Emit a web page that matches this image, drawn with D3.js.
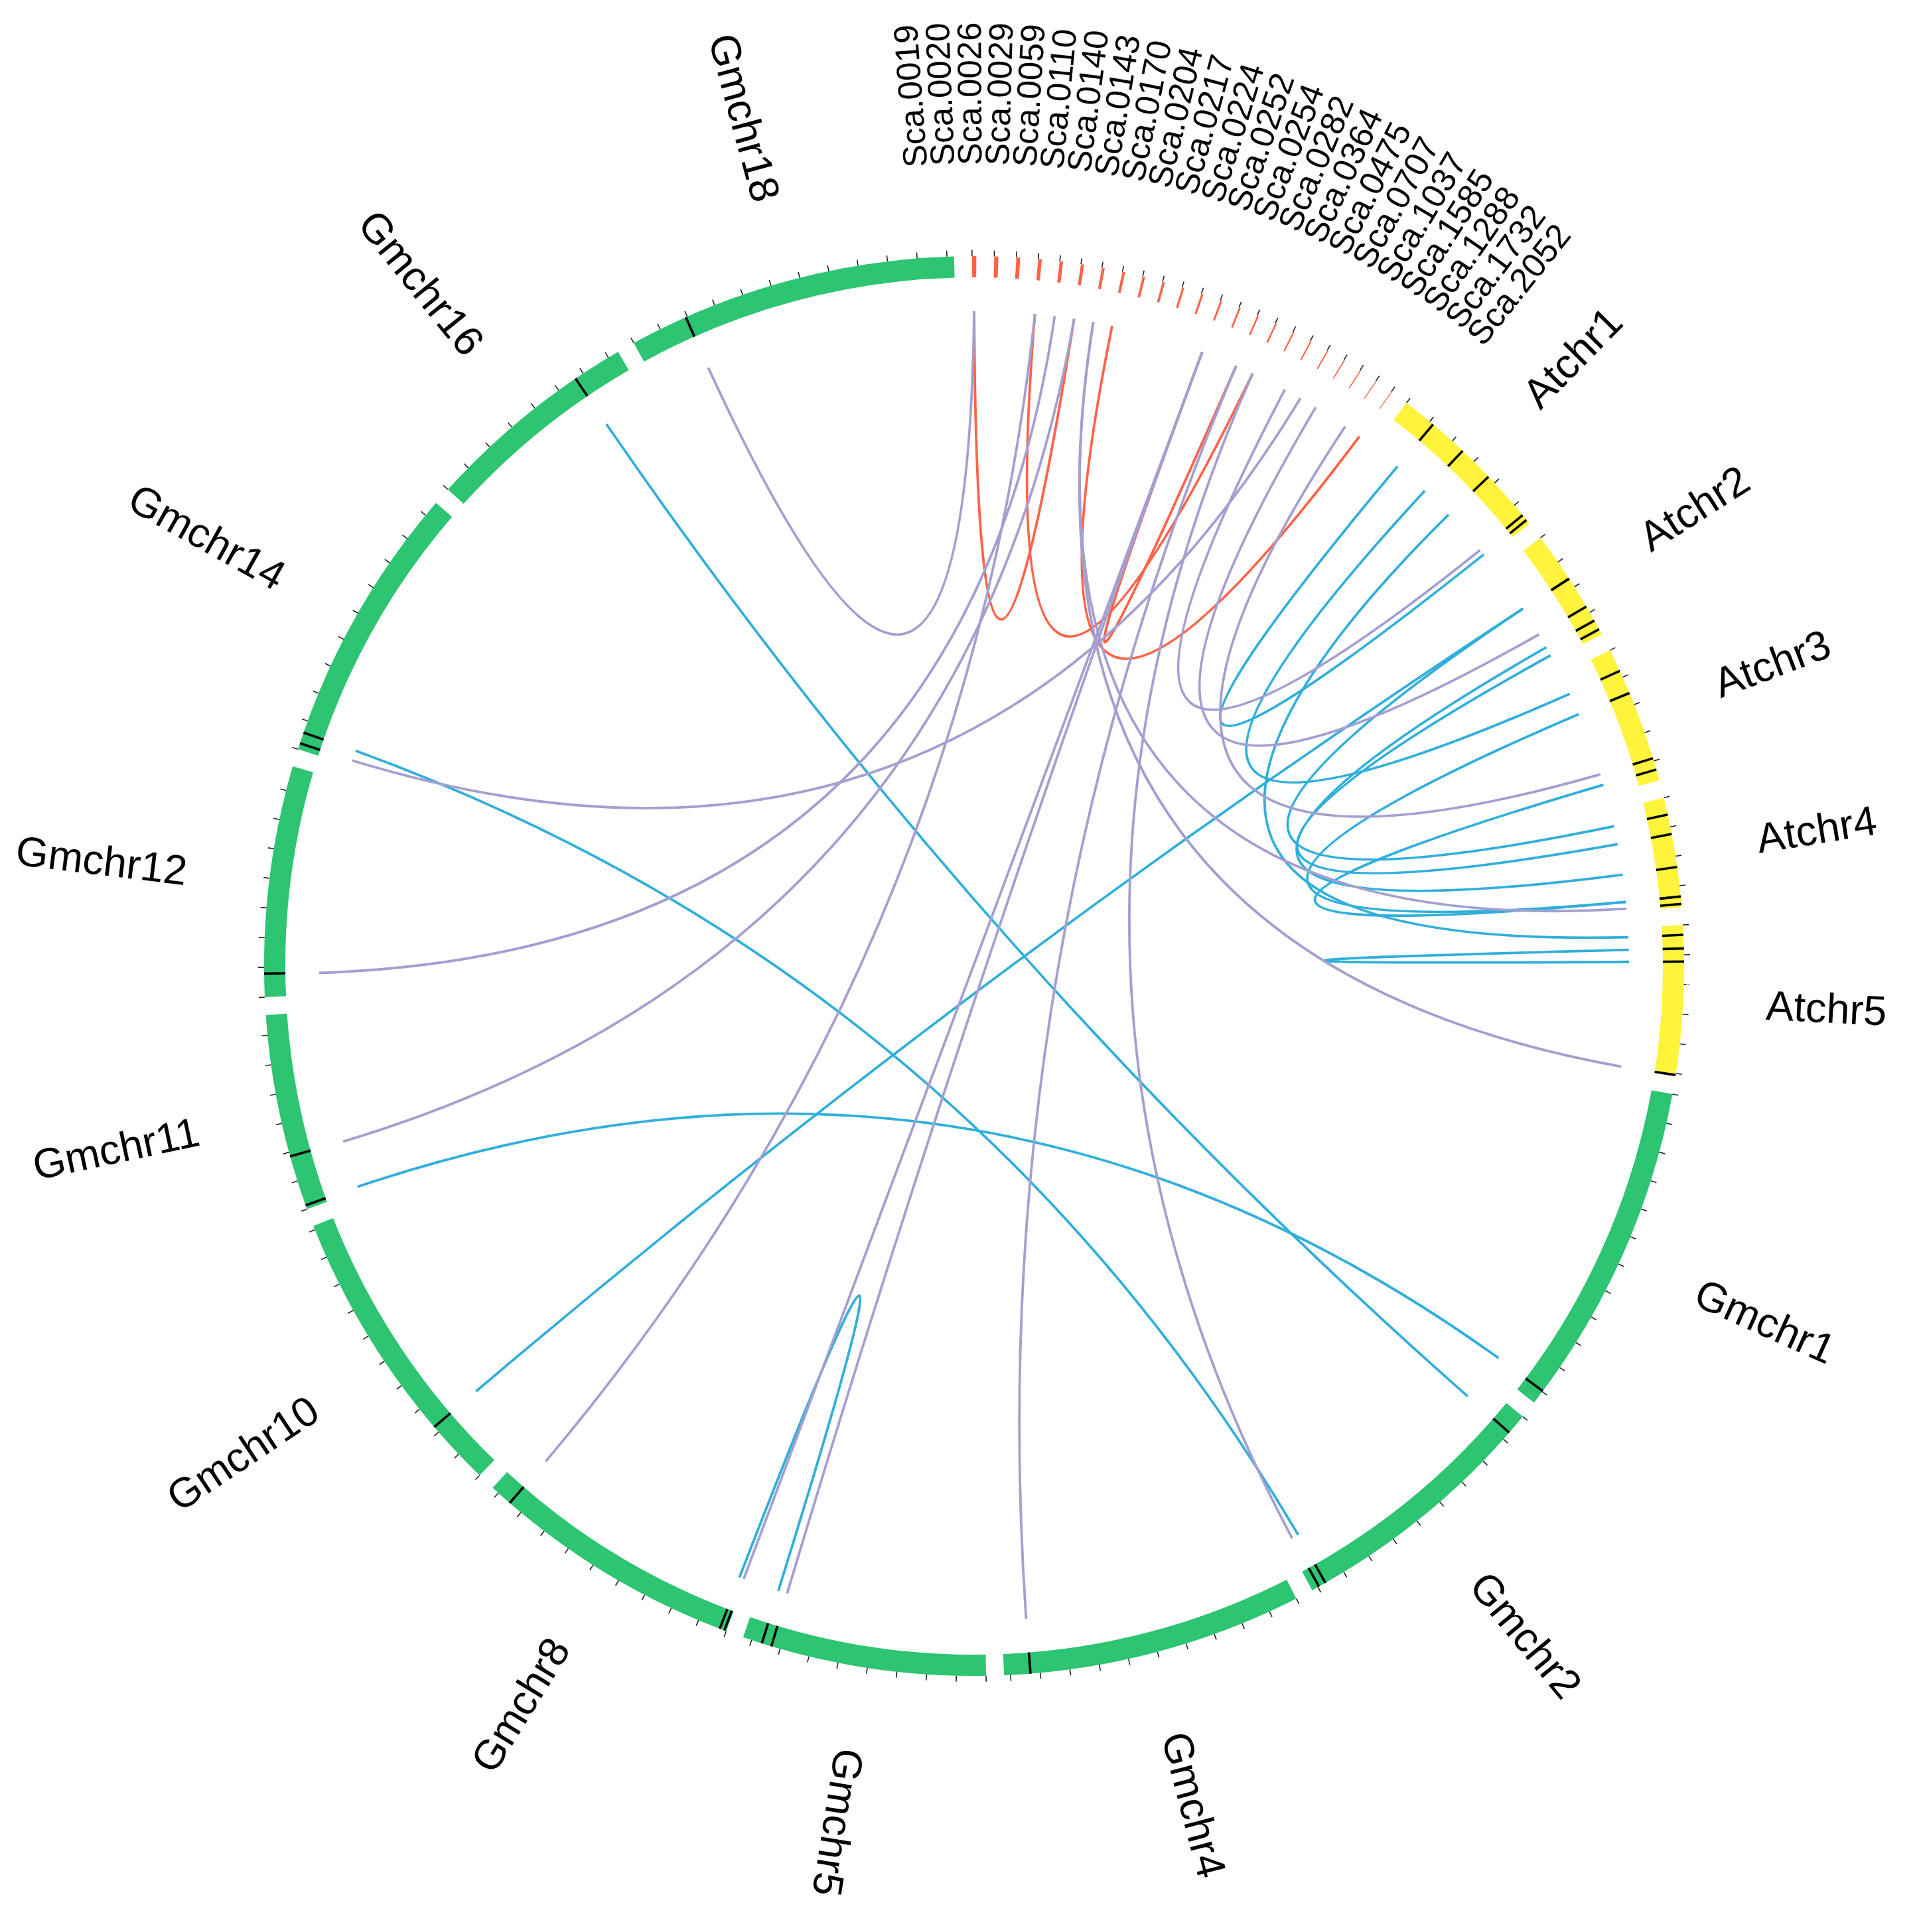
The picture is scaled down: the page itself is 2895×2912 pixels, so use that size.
<!DOCTYPE html>
<html>
<head>
<meta charset="utf-8">
<script src="https://cdn.jsdelivr.net/npm/d3@7"></script>
<style>
  body { margin: 0; background: #ffffff; }
</style>
</head>
<body>
<div id="circos"></div>
<script>
// scaffolds (drawn first, clockwise from 12 o'clock), sizes in Mb
var scaNames = ["Sca.0019", "Sca.0020", "Sca.0026", "Sca.0029", "Sca.0059", "Sca.0110",
  "Sca.0140", "Sca.0143", "Sca.0170", "Sca.0204", "Sca.0217", "Sca.0224", "Sca.0252",
  "Sca.0254", "Sca.0282", "Sca.0364", "Sca.0475", "Sca.0707", "Sca.1037", "Sca.1585",
  "Sca.1288", "Sca.1732", "Sca.2052"];
var scaSizes = [0.72, 0.70, 0.66, 0.62, 0.58, 0.54, 0.50, 0.47, 0.44, 0.41, 0.38, 0.36,
  0.34, 0.32, 0.30, 0.28, 0.26, 0.24, 0.22, 0.20, 0.18, 0.16, 0.14];

// chromosomes, sizes in Mb
var chrNames = ["Atchr1", "Atchr2", "Atchr3", "Atchr4", "Atchr5",
  "Gmchr1", "Gmchr2", "Gmchr4", "Gmchr5", "Gmchr8", "Gmchr10",
  "Gmchr11", "Gmchr12", "Gmchr14", "Gmchr16", "Gmchr18"];
var chrSizes = [29.0, 19.2, 23.4, 18.6, 25.5,
  57.3, 46.1, 51.1, 41.5, 46.3, 50.7,
  33.4, 39.2, 47.7, 36.9, 56.2];

// links: [from, position (Mb), to, position (Mb)]
var redLinks = [
  ["Sca.0019", 0.36, "Sca.0110", 0.27],
  ["Sca.0029", 0.31, "Sca.0364", 0.14],
  ["Sca.0143", 0.23, "Sca.2052", 0.07],
  ["Sca.0252", 0.17, "Sca.0282", 0.15]
];
var blueLinks = [
  ["Gmchr16", 28.45, "Gmchr2", 3.52],
  ["Gmchr14", 2.93, "Gmchr2", 43.55],
  ["Gmchr11", 0.67, "Gmchr1", 54.89],
  ["Gmchr10", 11.13, "Atchr2", 8.36],
  ["Gmchr8", 1.16, "Gmchr5", 38.19],
  ["Atchr1", 5.74, "Atchr1", 28.20],
  ["Atchr1", 12.40, "Atchr3", 3.83],
  ["Atchr1", 18.53, "Atchr5", 1.66],
  ["Atchr2", 8.36, "Atchr4", 2.89],
  ["Atchr2", 16.58, "Atchr4", 11.83],
  ["Atchr2", 18.24, "Atchr4", 6.22],
  ["Atchr3", 7.88, "Atchr4", 16.83],
  ["Atchr3", 21.51, "Atchr4", 16.83],
  ["Atchr5", 3.95, "Atchr5", 6.14]
];
var purpleLinks = [
  ["Sca.0019", 0.36, "Gmchr18", 9.75],
  ["Sca.0029", 0.31, "Gmchr8", 42.45],
  ["Sca.0059", 0.29, "Gmchr12", 3.97],
  ["Sca.0110", 0.27, "Gmchr11", 9.30],
  ["Sca.0140", 0.25, "Atchr5", 25.27],
  ["Sca.0140", 0.25, "Atchr4", 18.07],
  ["Sca.0252", 0.17, "Gmchr8", 0.33],
  ["Sca.0252", 0.17, "Gmchr5", 36.52],
  ["Sca.0282", 0.15, "Gmchr4", 46.65],
  ["Sca.0364", 0.14, "Gmchr2", 44.80],
  ["Sca.0707", 0.12, "Atchr1", 27.16],
  ["Sca.1037", 0.11, "Gmchr14", 1.06],
  ["Sca.1585", 0.10, "Atchr2", 13.87],
  ["Sca.1732", 0.08, "Atchr3", 19.53]
];

var svgWidth = 2895;
var svgHeight = 2912;
var cx = 1468, cy = 1456;
var rInner = 1038, rOuter = 1070, rLink = 987;
var gapDeg = 1.45, startDeg = -0.17;

var svg = d3.select("#circos")
  .append("svg")
  .attr("width", svgWidth)
  .attr("height", svgHeight)
  .attr("viewBox", `0 0 ${svgWidth} ${svgHeight}`);

var g = svg.append("g")
  .attr("transform", `translate(${cx}, ${cy})`);

// layout: every segment gets its own angle scale
var segments = [];
scaNames.forEach(function(n, i) { segments.push({name: n, size: scaSizes[i], type: "sca"}); });
chrNames.forEach(function(n, i) {
  segments.push({name: n, size: chrSizes[i], type: n.indexOf("At") === 0 ? "at" : "gm"});
});

var totalMb = d3.sum(segments, d => d.size);
var degPerMb = (360 - segments.length * gapDeg) / totalMb;
var cursor = startDeg;
var segByName = {};
segments.forEach(function(s) {
  s.start = cursor;
  s.end = cursor + s.size * degPerMb;
  s.scale = d3.scaleLinear().domain([0, s.size]).range([s.start, s.end]);
  cursor = s.end + gapDeg;
  segByName[s.name] = s;
});

var rad = d => d * Math.PI / 180;
function polar(deg, r) {
  return [r * Math.sin(rad(deg)), -r * Math.cos(rad(deg))];
}
function angleOf(name, pos) { return segByName[name].scale(pos); }

var fillColor = {sca: "#ff6347", at: "#fff33b", gm: "#2dc472"};

// ideogram ring
var arc = d3.arc().innerRadius(rInner).outerRadius(rOuter);
g.selectAll("path.ideo")
  .data(segments)
  .enter()
  .append("path")
  .attr("class", "ideo")
  .attr("d", d => arc({startAngle: rad(d.start), endAngle: rad(d.end)}))
  .attr("fill", d => fillColor[d.type]);

// small ticks every 5 Mb
var ticks = [];
segments.forEach(function(s) {
  d3.range(0, s.size + 0.01, 5).forEach(function(p) { ticks.push(s.scale(p)); });
});
g.selectAll("line.tick")
  .data(ticks)
  .enter()
  .append("line")
  .attr("class", "tick")
  .attr("x1", d => polar(d, rOuter)[0])
  .attr("y1", d => polar(d, rOuter)[1])
  .attr("x2", d => polar(d, rOuter + 9)[0])
  .attr("y2", d => polar(d, rOuter + 9)[1])
  .attr("stroke", "#222")
  .attr("stroke-width", 1.6);

// links
function linkPath(d) {
  var a = angleOf(d[0], d[1]), b = angleOf(d[2], d[3]);
  var diff = ((b - a) % 360 + 360) % 360;
  var mid;
  if (diff > 180) { diff = 360 - diff; mid = b + diff / 2; } else { mid = a + diff / 2; }
  var rc = 67 * (1 - diff / 180);
  var p0 = polar(a, rLink), p2 = polar(b, rLink), c = polar(mid, rc);
  return `M${p0[0]},${p0[1]} Q${c[0]},${c[1]} ${p2[0]},${p2[1]}`;
}

var linkSets = [[redLinks, "#ff6347"], [blueLinks, "#31afdb"], [purpleLinks, "#a49fd0"]];
linkSets.forEach(function(set) {
  g.append("g")
    .selectAll("path")
    .data(set[0])
    .enter()
    .append("path")
    .attr("d", linkPath)
    .attr("fill", "none")
    .attr("stroke", set[1])
    .attr("stroke-width", 3.8);
});

// black marks on the band where links land (not on scaffolds)
var marks = [];
redLinks.concat(blueLinks, purpleLinks).forEach(function(d) {
  if (segByName[d[0]].type !== "sca") marks.push(angleOf(d[0], d[1]));
  if (segByName[d[2]].type !== "sca") marks.push(angleOf(d[2], d[3]));
});
g.selectAll("line.mark")
  .data(marks)
  .enter()
  .append("line")
  .attr("class", "mark")
  .attr("x1", d => polar(d, rInner)[0])
  .attr("y1", d => polar(d, rInner)[1])
  .attr("x2", d => polar(d, rOuter)[0])
  .attr("y2", d => polar(d, rOuter)[1])
  .attr("stroke", "#000")
  .attr("stroke-width", 3.6);

// chromosome labels, radial, flipped on the left side
var chrSegs = segments.filter(d => d.type !== "sca");
g.selectAll("text.chr")
  .data(chrSegs)
  .enter()
  .append("text")
  .attr("class", "chr")
  .attr("transform", function(d) {
    var m = (d.start + d.end) / 2;
    var p = polar(m, 1195);
    var flip = m > 200;
    return `translate(${p[0]}, ${p[1]}) rotate(${flip ? m + 90 : m - 90})`;
  })
  .attr("text-anchor", d => ((d.start + d.end) / 2 > 200 ? "end" : "start"))
  .attr("dy", "0.35em")
  .attr("font-family", "Arial, 'Liberation Sans', Helvetica, sans-serif")
  .attr("font-size", 63)
  .text(d => d.name);

// scaffold labels, spread evenly over the top
var labelAngle = d3.scaleLinear().domain([0, scaNames.length - 1]).range([-4.2, 38.6]);
g.selectAll("text.sca")
  .data(scaNames)
  .enter()
  .append("text")
  .attr("class", "sca")
  .attr("transform", function(d, i) {
    var m = labelAngle(i);
    var p = polar(m, 1207);
    return `translate(${p[0]}, ${p[1]}) rotate(${m - 90})`;
  })
  .attr("dy", "0.35em")
  .attr("font-family", "Arial, 'Liberation Sans', Helvetica, sans-serif")
  .attr("font-size", 51)
  .text(d => d);
</script>
</body>
</html>
